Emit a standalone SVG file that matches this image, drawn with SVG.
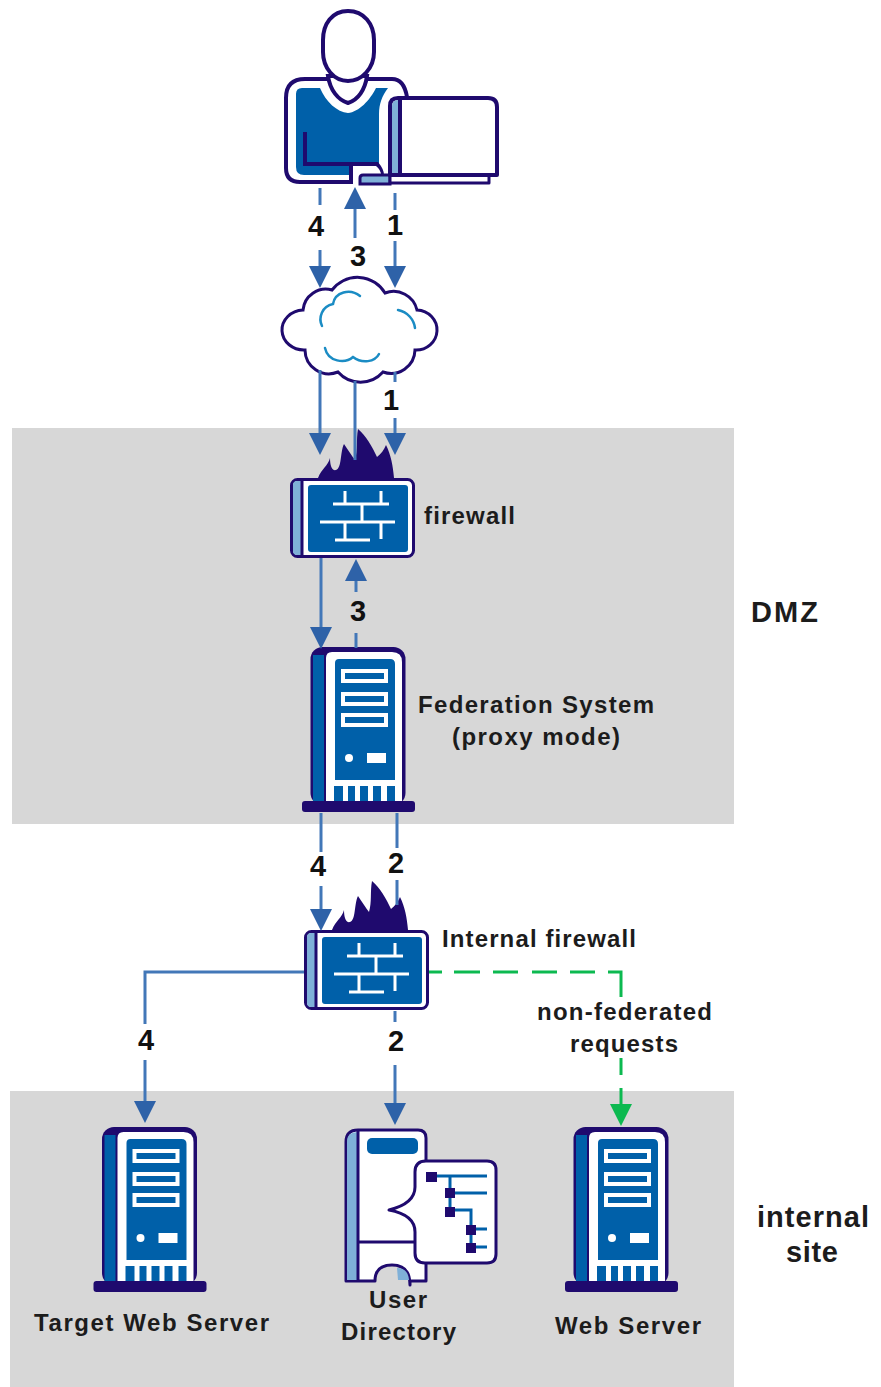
<svg xmlns="http://www.w3.org/2000/svg" xmlns:xlink="http://www.w3.org/1999/xlink" width="881" height="1387" viewBox="0 0 881 1387">
<style>
text{font-family:"Liberation Sans",Arial,sans-serif;font-weight:bold;fill:#1c1c1c;font-size:24px}
.num{font-size:29px;text-anchor:middle;fill:#111}
.big{font-size:29px}
.o{fill:#fff;stroke:#1f0a6e;stroke-width:4;stroke-linejoin:round}
.d{fill:#1f0a6e}
.b{fill:#0060a9}
.l{fill:#7fb0d8}
.w{fill:#fff}
.wl{stroke:#fff;stroke-width:3;fill:none}
.c{fill:none;stroke:#4277b8;stroke-width:3}
.a{marker-end:url(#ah)}
.g{fill:none;stroke:#0cb950;stroke-width:3}
.cl{fill:none;stroke:#1b8cc4;stroke-width:2.5;stroke-linecap:round}
.tree{fill:none;stroke:#0060a9;stroke-width:3}
</style>
<defs>
<marker id="ah" markerUnits="userSpaceOnUse" markerWidth="24" markerHeight="24" refX="14" refY="12" orient="auto"><path d="M1,1 L23,12 L1,23 L1,1z" fill="#2e62a8"/></marker>
<marker id="ag" markerUnits="userSpaceOnUse" markerWidth="24" markerHeight="24" refX="14" refY="12" orient="auto"><path d="M1,1 L23,12 L1,23z" fill="#0cb950"/></marker>
<g id="server">
<rect x="8.500" y="0" width="95" height="158" rx="12" class="d"/>
<rect x="11" y="8" width="11" height="150" class="b"/>
<path d="M24,157 V11 Q24,5 30,5 H90 Q100,5 100,15 V157z" class="w"/>
<path d="M33,16 Q33,12 37,12 H88 Q93,12 93,17 V133 H33z" class="b"/>
<path d="M32,139 H41 V155 H32z M46,139 H53 V155 H46z M58,139 H66 V155 H58z M71,139 H79 V155 H71z M85,139 H93 V155 H85z" class="b"/>
<rect x="39" y="22" width="47" height="14" class="w"/><rect x="43" y="26" width="39" height="6" class="b"/>
<rect x="39" y="45" width="47" height="14" class="w"/><rect x="43" y="49" width="39" height="6" class="b"/>
<rect x="39" y="66" width="47" height="14" class="w"/><rect x="43" y="70" width="39" height="6" class="b"/>
<circle cx="47" cy="111" r="4" class="w"/><rect x="65" y="106" width="19" height="10" class="w"/>
<rect x="0" y="154" width="113" height="11" rx="3" class="d"/>
</g>
<g id="fw">
<path d="M318,478 C322,468 328,466 330,458 C330,466 332,471 336,470 C342,468 340,452 344,444 C348,450 352,456 355,460 C358,450 356,440 358,429 C366,436 372,446 377,457 C381,454 384,450 386,445 C391,455 393,466 394,478z" class="d"/>
<rect x="291.500" y="479.500" width="122" height="77" rx="6" class="o" style="stroke-width:3"/>
<path d="M301,481 H297 Q293,481 293,485 V551 Q293,555 297,555 H301z" class="l"/>
<path d="M302,479 V557" stroke="#1f0a6e" stroke-width="3"/>
<rect x="308" y="485" width="100" height="67" rx="3" class="b"/>
<path d="M333,504 H389 M345,491 V504 M381,491 V504 M362,504 V522 M320,522 H395 M345,522 V540 M335,540 H370 M381,522 V539" class="wl"/>
</g>
</defs>
<rect x="12" y="428" width="722" height="396" fill="#d7d7d7"/>
<rect x="10" y="1091" width="724" height="296" fill="#d7d7d7"/>

<g id="user">
<path d="M349,182 H300 Q286,182 286,168 V98 Q286,79 305,79 H392 Q404,79 407,97 L407,182z" class="o"/>
<path d="M302,88 H320 C326,102 337,112 348,113 C359,112 370,100 376,88 H388 C382,96 379,104 379,114 V175 H304 Q296,175 296,167 V94 Q296,88 302,88z" class="b"/>
<path d="M305,132 V164 H377 Q382,170 382,175" fill="none" stroke="#1f0a6e" stroke-width="4"/>
<path d="M353,166 H376 Q381,170 381,175 H359 V184 H353z" class="w"/>
<path d="M351,164 V184" stroke="#1f0a6e" stroke-width="4"/>
<path d="M360,184 V178 Q360,175 363,175 H390 V184z" class="l" stroke="#1f0a6e" stroke-width="3"/>
<path d="M328,76 C330,90 338,100 348,103 C358,100 365,90 367,76z" class="w" stroke="#1f0a6e" stroke-width="4"/>
<path d="M348,11 C364,11 374,24 374,40 V52 C374,68 362,81 348,81 C334,81 323,68 323,52 V40 C323,24 332,11 348,11z" class="o"/>
<rect x="390" y="175" width="99" height="8" class="o" style="stroke-width:3"/>
<path d="M390,175 V106 Q390,98 398,98 H488 Q497,98 497,107 V175z" class="o"/>
<path d="M392,173 V106 Q392,100 398,100 V173z" class="l"/>
<path d="M400,97 V175" stroke="#1f0a6e" stroke-width="4"/>
</g>

<g id="internet">
<path d="M303,310 A23,23 0 0 1 332,290 A32,32 0 0 1 385,293 A24,24 0 0 1 417,310 A21,20 0 0 1 415,350 A24,24 0 0 1 383,372 A30,30 0 0 1 338,372 A24,24 0 0 1 305,350 A22,20 0 0 1 303,310z" fill="#fff" stroke="#1f0a6e" stroke-width="3"/>
<path d="M360,296 C350,288 335,292 333,304 C322,306 318,318 322,326 M398,310 C408,312 414,320 415,328 M325,348 C328,362 345,364 353,357 C362,364 375,362 379,354" class="cl"/>
</g>

<g id="firewall"><use href="#fw"/><text x="424" y="524" textLength="91">firewall</text></g>
<g id="federation"><use href="#server" x="302" y="647"/><text x="418" y="713" textLength="236">Federation System</text><text x="452" y="745" textLength="168">(proxy mode)</text></g>
<g id="internal-firewall"><use href="#fw" x="14" y="452"/><text x="442" y="947" textLength="194">Internal firewall</text></g>
<g id="target"><use href="#server" x="93.500" y="1127"/><text x="34" y="1331" textLength="235">Target Web Server</text></g>
<g id="webserver"><use href="#server" x="565" y="1127"/><text x="555" y="1334" textLength="146">Web Server</text></g>
<g id="directory">
<path d="M346,1281 V1142 Q346,1130 358,1130 H418 Q426,1130 426,1138 V1281 H410 V1285 Q410,1265 392,1265 Q375,1265 375,1281z" class="o" style="stroke-width:3"/>
<path d="M347,1280 V1142 Q347,1132 357,1132 V1280z" class="l"/>
<path d="M358,1129 V1282 M358,1242 H416" stroke="#1f0a6e" stroke-width="3"/>
<rect x="367" y="1138" width="51" height="16" rx="5" class="b"/>
<path d="M397,1268 Q408,1268 409,1280 H398z" class="l"/>
<path d="M426,1161 H487 Q496,1161 496,1170 V1254 Q496,1263 487,1263 H425 Q415,1263 415,1253 V1232 C415,1220 405,1213 389,1210 C405,1206 415,1199 415,1187 V1172 Q415,1161 426,1161z" class="o" style="stroke-width:3"/>
<path d="M437,1176 H487 M450,1176 V1212 M455,1193 H487 M455,1210 H471 V1248 M476,1229 H487 M476,1247 H487" class="tree"/>
<path d="M426,1172 h11 v10 h-11z M445,1188 h10 v10 h-10z M445,1207 h10 v10 h-10z M466,1225 h10 v10 h-10z M466,1243 h10 v10 h-10z" class="d"/>
<text x="369" y="1308" textLength="58">User</text><text x="341" y="1340" textLength="115">Directory</text>
</g>

<g id="connectors">
<path class="c" d="M320,188 V205"/><path class="c a" d="M320,250 V279"/>
<path class="c a" d="M355,238 V196"/>
<path class="c" d="M395,193 V210"/><path class="c a" d="M395,241 V279"/>
<path class="c a" d="M320,370 V446"/>
<path class="c" d="M355,381 V460"/>
<path class="c" d="M395,372 V382"/><path class="c a" d="M395,418 V446"/>
<path class="c a" d="M321,558 V640"/>
<path class="c a" d="M356,592 V568"/><path class="c" d="M356,633 V648"/>
<path class="c" d="M321,813 V852"/><path class="c a" d="M321,886 V922"/>
<path class="c" d="M397,813 V848 M397,880 V905"/>
<path class="c" d="M304,972 H145 V1024"/><path class="c a" d="M145,1060 V1114"/>
<path class="c" d="M395,1011 V1022"/><path class="c a" d="M395,1065 V1116"/>
<path class="g" d="M429,972 H442 M454,972 H480 M493,972 H518 M532,972 H557 M570,972 H595 M608,972 H621 V997 M621,1058 V1075"/>
<path class="g" marker-end="url(#ag)" d="M621,1088 V1117"/>
<text class="num" x="316" y="236">4</text>
<text class="num" x="358" y="266">3</text>
<text class="num" x="395" y="235">1</text>
<text class="num" x="391" y="410">1</text>
<text class="num" x="358" y="621">3</text>
<text class="num" x="318" y="876">4</text>
<text class="num" x="396" y="873">2</text>
<text class="num" x="146" y="1050">4</text>
<text class="num" x="396" y="1051">2</text>
<text x="537" y="1020" textLength="175">non-federated</text>
<text x="570" y="1052" textLength="108">requests</text>
</g>
<text class="big" x="751" y="622" textLength="67">DMZ</text>
<text class="big" x="757" y="1227" textLength="112">internal</text>
<text class="big" x="786" y="1262" textLength="52">site</text>
</svg>
